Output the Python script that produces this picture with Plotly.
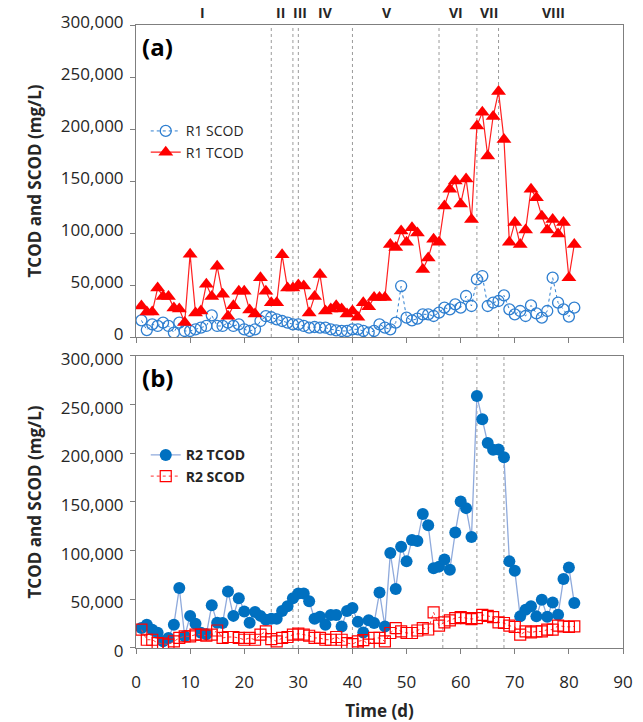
import plotly.graph_objects as go

# ---- data (mg/L) ----
days = list(range(1, 82))

r1_tcod = [29800, 24000, 24000, 47000, 39000, 39000, 28000, 27000, 14000, 79500,
           23000, 25000, 50600, 39000, 68000, 41000, 20000, 30000, 44000, 44000,
           26000, 22000, 57000, 44000, 33000, 33000, 79000, 47000, 47000, 50000,
           49000, 23000, 39000, 60000, 25000, 27000, 30000, 27000, 22000, 25000,
           19000, 33000, 29000, 38000, 38000, 38000, 89000, 86000, 102000, 91000,
           105000, 100000, 65000, 76000, 94000, 91000, 126000, 142000, 150000, 128000,
           152000, 113000, 203000, 216000, 174000, 212000, 236000, 190000, 91000, 110000,
           89000, 103000, 142000, 134000, 116000, 103000, 113000, 99000, 110000, 57000,
           89000]

r1_scod = [16000, 6700, 12200, 10600, 13800, 10600, 4200, 13800, 5800, 5800,
           7400, 9000, 10600, 20800, 10600, 10600, 13800, 10600, 12200, 7400,
           5800, 7400, 15400, 20000, 19000, 17000, 15400, 13800, 12200, 12200,
           10600, 9000, 9600, 9000, 9000, 7400, 6400, 5800, 5800, 7400,
           7400, 5800, 4200, 5800, 12200, 9000, 7400, 13800, 49000, 18600,
           16000, 17600, 21800, 21800, 20200, 23400, 28200, 26600, 31400, 28200,
           39400, 29800, 55400, 58600, 29800, 33000, 34600, 40000, 26600, 21800,
           25000, 20200, 30400, 22700, 18600, 25000, 57000, 33000, 26600, 19600,
           28200]

r2_tcod = [20500, 24000, 18800, 15700, 6800, 10300, 24000, 61600, 12000, 33000,
           25000, 15700, 14000, 44000, 26000, 25700, 58000, 33000, 51000, 37600,
           26000, 37000, 33000, 29000, 30000, 30000, 38000, 43000, 51000, 56000,
           56000, 48000, 30000, 32000, 24000, 34000, 34000, 22000, 38000, 41000,
           27000, 16000, 28400, 25700, 57000, 22200, 97500, 60600, 104000, 89000,
           111000, 110000, 137600, 126000, 82000, 83600, 91000, 80400, 118700, 150500,
           143700, 114000, 259000, 235000, 210500, 203600, 204000, 196000, 89000, 79400,
           32500, 39300, 42800, 32500, 49600, 32000, 46800, 34200, 70800, 82800,
           46200]

r2_scod = [18800, 8500, 8500, 5100, 4400, 3400, 6800, 10300, 12000, 12000,
           13700, 13700, 12600, 13700, 18000, 10300, 11300, 11300, 10300, 8500,
           10300, 8500, 13700, 17000, 9200, 6800, 10300, 11300, 13700, 14700,
           13700, 12600, 10300, 10300, 8500, 8500, 11300, 8500, 5100, 4000,
           6800, 8000, 3400, 10300, 10300, 6800, 15400, 20500, 17000, 15400,
           15400, 18000, 20500, 19000, 36600, 22900, 26300, 28400, 30700, 31700,
           30700, 29700, 30700, 34100, 33000, 31700, 26300, 25700, 22900, 21600,
           13700, 17000, 16000, 17000, 17000, 18800, 18800, 22900, 22200, 21600,
           22200]

# operating-phase boundaries (d) and phase names
phase_bounds_a = [25, 29, 30, 40, 56, 63, 67]
phase_bounds_b = [25, 29, 30, 40, 56.7, 63, 68]
phase_names = ["I", "II", "III", "IV", "V", "VI", "VII", "VIII"]
phase_label_x = [12.3, 26.7, 30.3, 35.1, 46.3, 59.2, 65.2, 77.2]

y_ticks = [0, 50000, 100000, 150000, 200000, 250000, 300000]
x_ticks = list(range(0, 100, 10))

FONT = "Open Sans"
TXT = "#262626"

fig = go.Figure()

# panel (a)
fig.add_trace(go.Scatter(
    x=days, y=r1_scod, name="R1 SCOD", mode="lines+markers",
    line=dict(color="#2F7FD0", width=1, dash="dot"),
    marker=dict(symbol="circle-open", size=11, color="#2F7FD0", line=dict(width=1.3)),
    xaxis="x", yaxis="y", legend="legend"))
fig.add_trace(go.Scatter(
    x=days, y=r1_tcod, name="R1 TCOD", mode="lines+markers",
    line=dict(color="#FF2020", width=1.2),
    marker=dict(symbol="triangle-up", size=13, color="#FF0000"),
    xaxis="x", yaxis="y", legend="legend"))

# panel (b)
fig.add_trace(go.Scatter(
    x=days, y=r2_tcod, name="R2 TCOD", mode="lines+markers",
    line=dict(color="#8FAADC", width=1.3),
    marker=dict(symbol="circle", size=12, color="#0070C0"),
    xaxis="x2", yaxis="y2", legend="legend2"))
fig.add_trace(go.Scatter(
    x=days, y=r2_scod, name="R2 SCOD", mode="lines+markers",
    line=dict(color="#FF3030", width=1, dash="dot"),
    marker=dict(symbol="square-open", size=11, color="#FF0000", line=dict(width=1.2)),
    xaxis="x2", yaxis="y2", legend="legend2"))

shapes = []
for xb in phase_bounds_a:
    shapes.append(dict(type="line", xref="x", yref="y domain", x0=xb, x1=xb, y0=0, y1=1,
                       line=dict(color="#9A9A9A", width=1, dash="dot"), layer="below"))
for xb in phase_bounds_b:
    shapes.append(dict(type="line", xref="x2", yref="y2 domain", x0=xb, x1=xb, y0=0, y1=1,
                       line=dict(color="#9A9A9A", width=1, dash="dot"), layer="below"))

annotations = []
for name, xp in zip(phase_names, phase_label_x):
    annotations.append(dict(text="<b>%s</b>" % name, x=xp, xref="x", y=1.0, yref="paper",
                            yanchor="bottom", yshift=1, showarrow=False,
                            font=dict(family=FONT, size=14, color=TXT)))
annotations.append(dict(text="<b>(a)</b>", x=0.008, xref="x domain", y=0.99, yref="y domain",
                        xanchor="left", yanchor="top", showarrow=False,
                        font=dict(family=FONT, size=24, color="#000")))
annotations.append(dict(text="<b>(b)</b>", x=0.008, xref="x2 domain", y=0.99, yref="y2 domain",
                        xanchor="left", yanchor="top", showarrow=False,
                        font=dict(family=FONT, size=24, color="#000")))

axis_common = dict(showline=True, linecolor="#7F7F7F", linewidth=1, mirror=True,
                   ticks="outside", ticklen=5, tickcolor="#7F7F7F", showgrid=False,
                   zeroline=False, automargin=False)

yaxis_common = dict(axis_common, range=[0, 300000], tickvals=y_ticks, tickformat=",",
                    tickfont=dict(family=FONT, size=17, color=TXT),
                    ticklabelstandoff=3,
                    title=dict(text="<b>TCOD and SCOD (mg/L)</b>", standoff=14,
                               font=dict(family=FONT, size=17, color=TXT)))

fig.update_layout(
    width=643, height=722,
    margin=dict(l=136, r=20, t=25, b=74),
    paper_bgcolor="white", plot_bgcolor="white",
    showlegend=True,
    xaxis=dict(axis_common, domain=[0, 1], range=[0, 90], tickvals=x_ticks,
               showticklabels=False, anchor="y"),
    yaxis=dict(yaxis_common, domain=[0.4992, 1.0], anchor="x", ticklabelshift=-3),
    xaxis2=dict(axis_common, domain=[0, 1], range=[0, 90], tickvals=x_ticks, anchor="y2",
                tickfont=dict(family=FONT, size=17, color=TXT), ticklabelstandoff=14,
                title=dict(text="<b>Time (d)</b>", standoff=13,
                           font=dict(family=FONT, size=17, color=TXT))),
    yaxis2=dict(yaxis_common, domain=[0.0, 0.4687], anchor="x2", ticklabelshift=3),
    legend=dict(x=0.02, y=0.855, xanchor="left", yanchor="top", bgcolor="rgba(0,0,0,0)",
                font=dict(family=FONT, size=14, color=TXT), tracegroupgap=0, itemwidth=30),
    legend2=dict(x=0.02, y=0.335, xanchor="left", yanchor="top", bgcolor="rgba(0,0,0,0)",
                 font=dict(family=FONT, size=14, color=TXT, weight="bold"), tracegroupgap=0,
                 itemwidth=30),
    shapes=shapes,
    annotations=annotations,
)

fig.write_html("out.html")
